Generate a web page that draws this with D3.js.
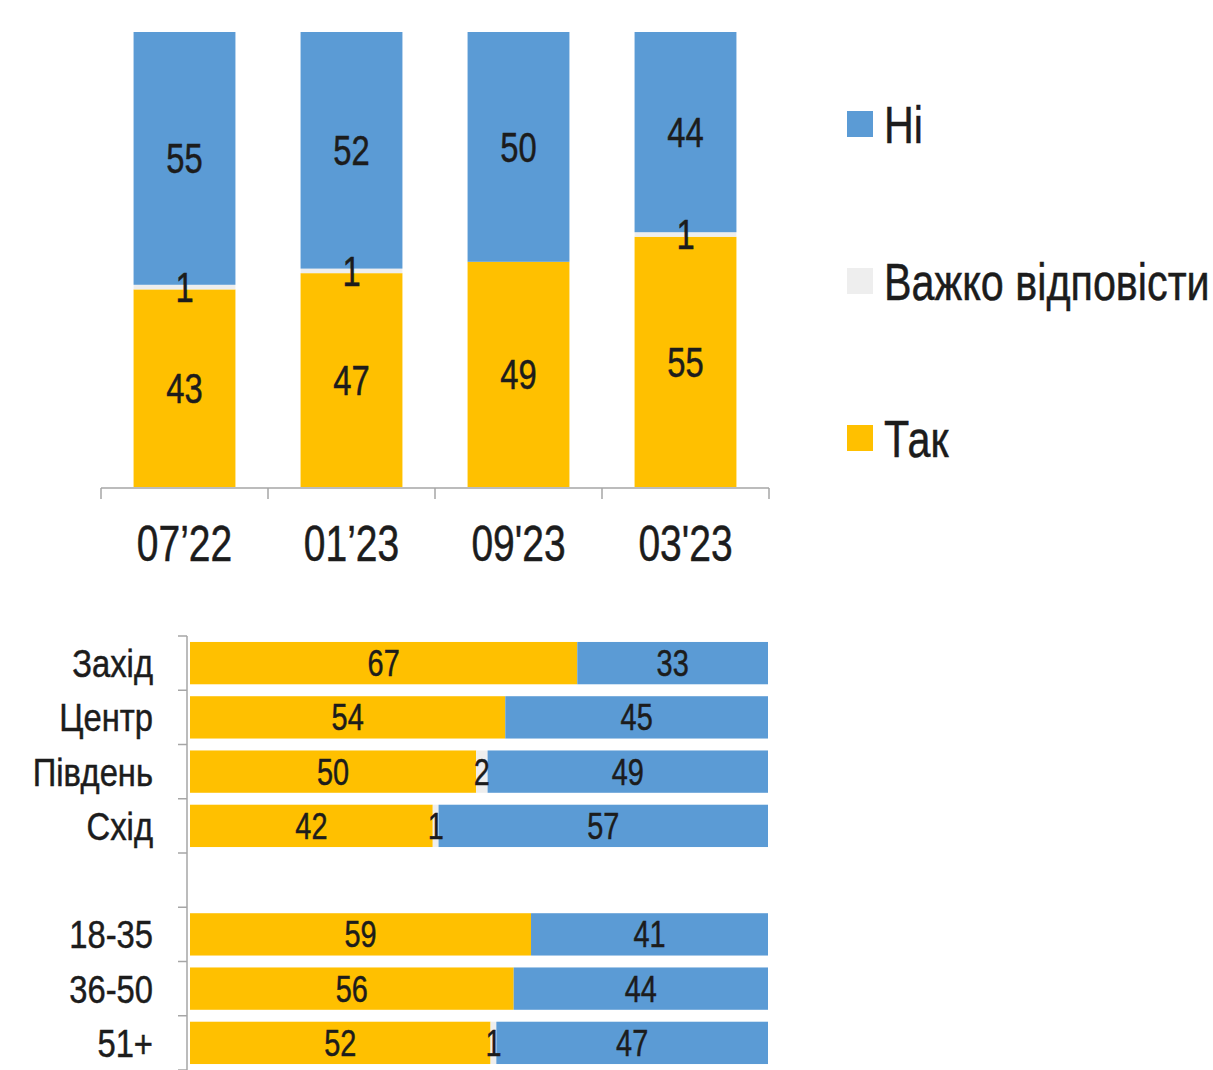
<!DOCTYPE html>
<html><head><meta charset="utf-8">
<script src="https://cdn.jsdelivr.net/npm/d3@7"></script>
<style>body{margin:0;background:#fff}svg{display:block}text{font-family:"Liberation Sans",Arial,sans-serif;fill:#1c1c1c;stroke:#1c1c1c;stroke-width:0.5px}</style>
</head><body><svg id="c" width="1213" height="1070"></svg>
<script>
// ---- data ----
const periods = ["07’22", "01’23", "09'23", "03'23"];
const takTop = [43, 47, 49, 55];
const hardTop = [1, 1, 0, 1];
const niTop = [55, 52, 50, 44];

const groups = ["Захід", "Центр", "Південь", "Схід", " ", "18-35", "36-50", "51+"];
const takBot = [67, 54, 50, 42, null, 59, 56, 52];
const hardBot = [0, 0, 2, 1, null, 0, 0, 1];
const niBot = [33, 45, 49, 57, null, 41, 44, 47];

const seriesKeys = ["tak", "hard", "ni"];
const legendLabels = ["Ні", "Важко відповісти", "Так"];
const legendKeys = ["ni", "hard", "tak"];
const colors = {tak: "#FFC000", hard: "#EEEEEE", ni: "#5B9BD5"};

const svg = d3.select("#c");
function label(g, x, y, txt, size, anchor, sx) {
  g.append("text").attr("transform", `translate(${x},${y}) scale(${sx || 0.78},1)`)
    .attr("text-anchor", anchor || "middle").attr("font-size", size).text(txt);
}

// ---- top chart ----
const topRows = periods.map((p, i) => ({key: p, tak: takTop[i], hard: hardTop[i], ni: niTop[i]}));
const stackTop = d3.stack().keys(seriesKeys).offset(d3.stackOffsetExpand)(topRows);
const x1 = d3.scaleBand().domain(periods).range([101, 769]).paddingInner(0.39).paddingOuter(0.195);
const y1 = d3.scaleLinear().domain([0, 1]).range([487, 32]);
const gTop = svg.append("g");
stackTop.forEach(s => {
  gTop.selectAll(null).data(s).join("rect")
    .attr("x", d => x1(d.data.key)).attr("width", x1.bandwidth())
    .attr("y", d => y1(d[1])).attr("height", d => y1(d[0]) - y1(d[1]))
    .attr("fill", colors[s.key]);
});
stackTop.forEach(s => {
  s.forEach(d => {
    const v = d.data[s.key];
    if (!v) return;
    label(gTop, x1(d.data.key) + x1.bandwidth() / 2, (y1(d[0]) + y1(d[1])) / 2 + 15, v, 42);
  });
});
// axis
const axTop = gTop.append("g").attr("stroke", "#a6a6a6").attr("stroke-width", 1.5);
axTop.append("line").attr("x1", 101).attr("x2", 769).attr("y1", 488).attr("y2", 488);
const bTop = periods.map(p => x1(p) - x1.step() * x1.paddingInner() / 2);
bTop.push(x1.range()[1]);
bTop[0] = x1.range()[0];
bTop.forEach(b => axTop.append("line").attr("x1", b).attr("x2", b).attr("y1", 488).attr("y2", 499));
periods.forEach(p => label(gTop, x1(p) + x1.bandwidth() / 2, 561, p, 50));

// legend
const lg = svg.append("g");
legendKeys.forEach((k, i) => {
  const cy = 124 + i * 157;
  lg.append("rect").attr("x", 847).attr("y", cy - 13).attr("width", 26).attr("height", 26).attr("fill", colors[k]);
  label(lg, 884, cy + 19, legendLabels[i], 52, "start", 0.795);
});

// ---- bottom chart ----
const botRows = groups.map((g, i) => ({key: g, tak: takBot[i] || 0, hard: hardBot[i] || 0, ni: niBot[i] || 0, empty: takBot[i] === null}));
const stackBot = d3.stack().keys(seriesKeys).offset(d3.stackOffsetExpand)(botRows.filter(r => !r.empty));
const y2 = d3.scaleBand().domain(groups).range([636, 1070]).paddingInner(0.22).paddingOuter(0.11);
const x2 = d3.scaleLinear().domain([0, 1]).range([190, 768]);
const gBot = svg.append("g");
stackBot.forEach(s => {
  gBot.selectAll(null).data(s).join("rect")
    .attr("y", d => y2(d.data.key)).attr("height", y2.bandwidth())
    .attr("x", d => x2(d[0])).attr("width", d => x2(d[1]) - x2(d[0]))
    .attr("fill", colors[s.key]);
});
stackBot.forEach(s => {
  s.forEach(d => {
    const v = d.data[s.key];
    if (!v) return;
    label(gBot, (x2(d[0]) + x2(d[1])) / 2, y2(d.data.key) + y2.bandwidth() / 2 + 13, v, 37);
  });
});
const axBot = gBot.append("g").attr("stroke", "#a6a6a6").attr("stroke-width", 1.5);
axBot.append("line").attr("x1", 187).attr("x2", 187).attr("y1", 636).attr("y2", 1070);
const bBot = groups.map(g => y2(g) - y2.step() * y2.paddingInner() / 2);
bBot[0] = y2.range()[0];
bBot.push(y2.range()[1]);
bBot.forEach(b => axBot.append("line").attr("x1", 178).attr("x2", 187).attr("y1", b).attr("y2", b));
groups.forEach(g => label(gBot, 153, y2(g) + y2.bandwidth() / 2 + 14, g, 39, "end", 0.84));
</script></body></html>
